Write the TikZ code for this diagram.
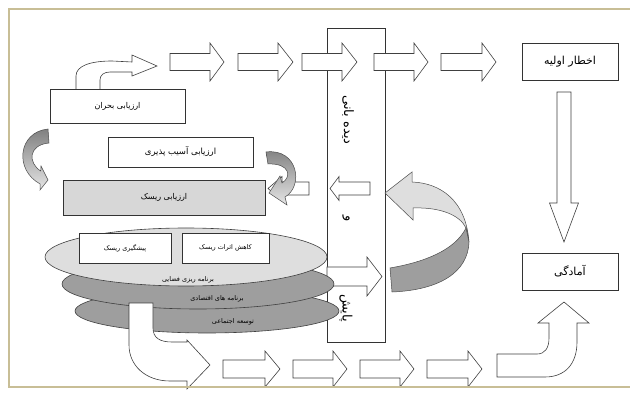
\documentclass[tikz,border=0pt]{standalone}
\usepackage{fontspec}
\newfontfamily\fa[Script=Arabic]{DejaVu Sans}
\TeXXeTstate=1
\definecolor{framec}{RGB}{200,190,150}
\definecolor{lightg}{RGB}{222,222,222}
\definecolor{darkg}{RGB}{158,158,158}
\definecolor{boxg}{RGB}{215,215,215}
\newcommand\arrRt[6]{\draw[blk] (#1,#4-#5) -- (#2,#4-#5) -- (#2,#4-#6) -- (#3,#4) -- (#2,#4+#6) -- (#2,#4+#5) -- (#1,#4+#5) -- cycle;}
\newcommand\arrLt[6]{\draw[blk] (#1,#4-#5) -- (#2,#4-#5) -- (#2,#4-#6) -- (#3,#4) -- (#2,#4+#6) -- (#2,#4+#5) -- (#1,#4+#5) -- cycle;}
\begin{document}
\begin{tikzpicture}[x=1pt,y=-1pt,
  bx/.style={draw=black!80, line width=0.6pt, fill=white, inner sep=0pt, font=\fa\fontsize{8}{9}\selectfont},
  blk/.style={draw=black!75, line width=0.6pt, fill=white, line join=miter},
  lbl/.style={font=\fa\fontsize{6.5}{7}\selectfont, inner sep=0pt},
  vlbl/.style={font=\fa\fontsize{13}{14}\selectfont, inner sep=0pt, rotate=-90},
  ell/.style={draw=black!75, line width=0.6pt},
  curv/.style={draw=black!70, line width=0.5pt}]
\useasboundingbox (0,0) rectangle (630,393);
\fill[white] (0,0) rectangle (630,393);
% tall monitoring box
\node[bx, minimum width=58pt, minimum height=314pt] (tall) at (356,185) {};
\node[vlbl] (t1) at (348,120) {\beginR دیده بانی\endR};
\node[vlbl] (t2) at (346,219) {\beginR و\endR};
\node[vlbl] (t3) at (346,308) {\beginR پایش\endR};
% top row arrows
\arrRt{170}{210}{224}{62}{8.5}{19}
\arrRt{238}{278}{293}{62}{8.5}{19}
\arrRt{302}{342}{357}{62}{8.5}{19}
\arrRt{374}{414}{428}{62}{8.5}{19}
\arrRt{441}{482}{496}{62}{8.5}{19}
% arrows inside the tall box
\arrLt{370}{339}{330}{188.5}{6.5}{12}
\arrRt{327}{367}{382}{276.5}{9.5}{19.5}
% crisis box and bent arrow
\draw[blk] (76,90) -- (76,76) .. controls (76,66) and (90,61) .. (112,61) -- (132,62) -- (132,55) -- (157,66) -- (132,76) -- (132,72) -- (110,72) .. controls (104,72) and (100,75) .. (100,80) -- (100,90) -- cycle;
\node[bx, minimum width=135pt, minimum height=34pt] (crisis) at (117.5,106) {\beginR ارزیابی بحران\endR};
% vulnerability
\node[bx, font=\fa\fontsize{8.5}{9}\selectfont, minimum width=145pt, minimum height=30pt] (vuln) at (180.5,152) {\beginR ارزیابی آسیب پذیری\endR};
% risk box
\node[bx, fill=boxg, minimum width=202pt, minimum height=35pt] (risk) at (164,197.5) {\beginR ارزیابی ریسک\endR};
% small white left arrow
\arrLt{309}{282}{268}{188.5}{6.5}{12}
% small curved arrow
\shadedraw[curv, top color=black!50, bottom color=black!10] (266,152) .. controls (298,148) and (304,186) .. (285,197) -- (287,205) -- (269,193) -- (280,176) -- (282,183) .. controls (292,177) and (290,163) .. (268,164) -- cycle;
% left curved arrow
\shadedraw[curv, top color=black!50, bottom color=black!10] (48,129) .. controls (18,132) and (14,170) .. (40.2,184) -- (40,190) -- (48,180) -- (41,166) -- (40.7,171) .. controls (28,163) and (28,145) .. (49,143) -- cycle;
% big curved arrow
\draw[curv, fill=lightg] (469,242) .. controls (466,200) and (440,183) .. (412,182) -- (412,172) -- (385,193) -- (413,220) -- (413,208) .. controls (440,207) and (460,215) .. (466,228) -- cycle;
\draw[curv, fill=darkg] (466,228) -- (469,242) .. controls (468,272) and (440,290) .. (392,292) -- (390,268) .. controls (425,262) and (455,250) .. (466,228) -- cycle;
% ellipses
\draw[ell, fill=darkg] (207,311) ellipse [x radius=132, y radius=22];
\draw[ell, fill=darkg] (198,284) ellipse [x radius=136, y radius=25];
\draw[ell, fill=lightg] (186,257) ellipse [x radius=141, y radius=29];
\node[lbl] (e1) at (188,280) {\beginR برنامه ریزی فضایی\endR};
\node[lbl] (e2) at (217,299) {\beginR برنامه های اقتصادی\endR};
\node[lbl] (e3) at (233,322) {\beginR توسعه اجتماعی\endR};
\node[bx, font=\fa\fontsize{6.5}{7}\selectfont, minimum width=92pt, minimum height=30pt] (prev) at (125,248) {\beginR پیشگیری ریسک\endR};
\node[bx, font=\fa\fontsize{6.5}{7}\selectfont, minimum width=87pt, minimum height=30pt] (redu) at (225.5,248) {\beginR کاهش اثرات ریسک\endR};
% bottom-left bent arrow
\draw[blk] (129,303) -- (153,303) -- (153,328) .. controls (153,338) and (160,342) .. (172,342) -- (187,342) -- (187,340) -- (210,365) -- (187,389) -- (187,381) -- (170,381) .. controls (145,381) and (129,365) .. (129,345) -- cycle;
% bottom row arrows
\arrRt{223}{265}{280}{369}{9}{18}
\arrRt{293}{333}{347}{369}{9}{18}
\arrRt{360}{400}{414}{369}{9}{18}
\arrRt{427}{468}{482}{369}{9}{18}
% bottom-right bent arrow
\draw[blk] (497,354) -- (537,354) .. controls (545,354) and (549,348) .. (549,338) -- (549,323) -- (538,323) -- (564,302) -- (589,323) -- (577,323) -- (577,342) .. controls (577,364) and (565,377) .. (545,377) -- (497,377) -- cycle;
% right column
\node[bx, font=\fa\fontsize{11}{12}\selectfont, minimum width=96pt, minimum height=37pt] (warn) at (570,61.5) {\beginR اخطار اولیه\endR};
\node[bx, font=\fa\fontsize{11}{12}\selectfont, minimum width=96pt, minimum height=37pt] (prep) at (570,271.5) {\beginR آمادگی\endR};
\draw[blk] (557,92) -- (571,92) -- (571,203) -- (578.5,203) -- (564,242) -- (549.5,203) -- (557,203) -- cycle;
% frame
\draw[framec, line width=2pt] (630,9) -- (9,9) -- (9,387) -- (630,387);
\end{tikzpicture}
\end{document}
